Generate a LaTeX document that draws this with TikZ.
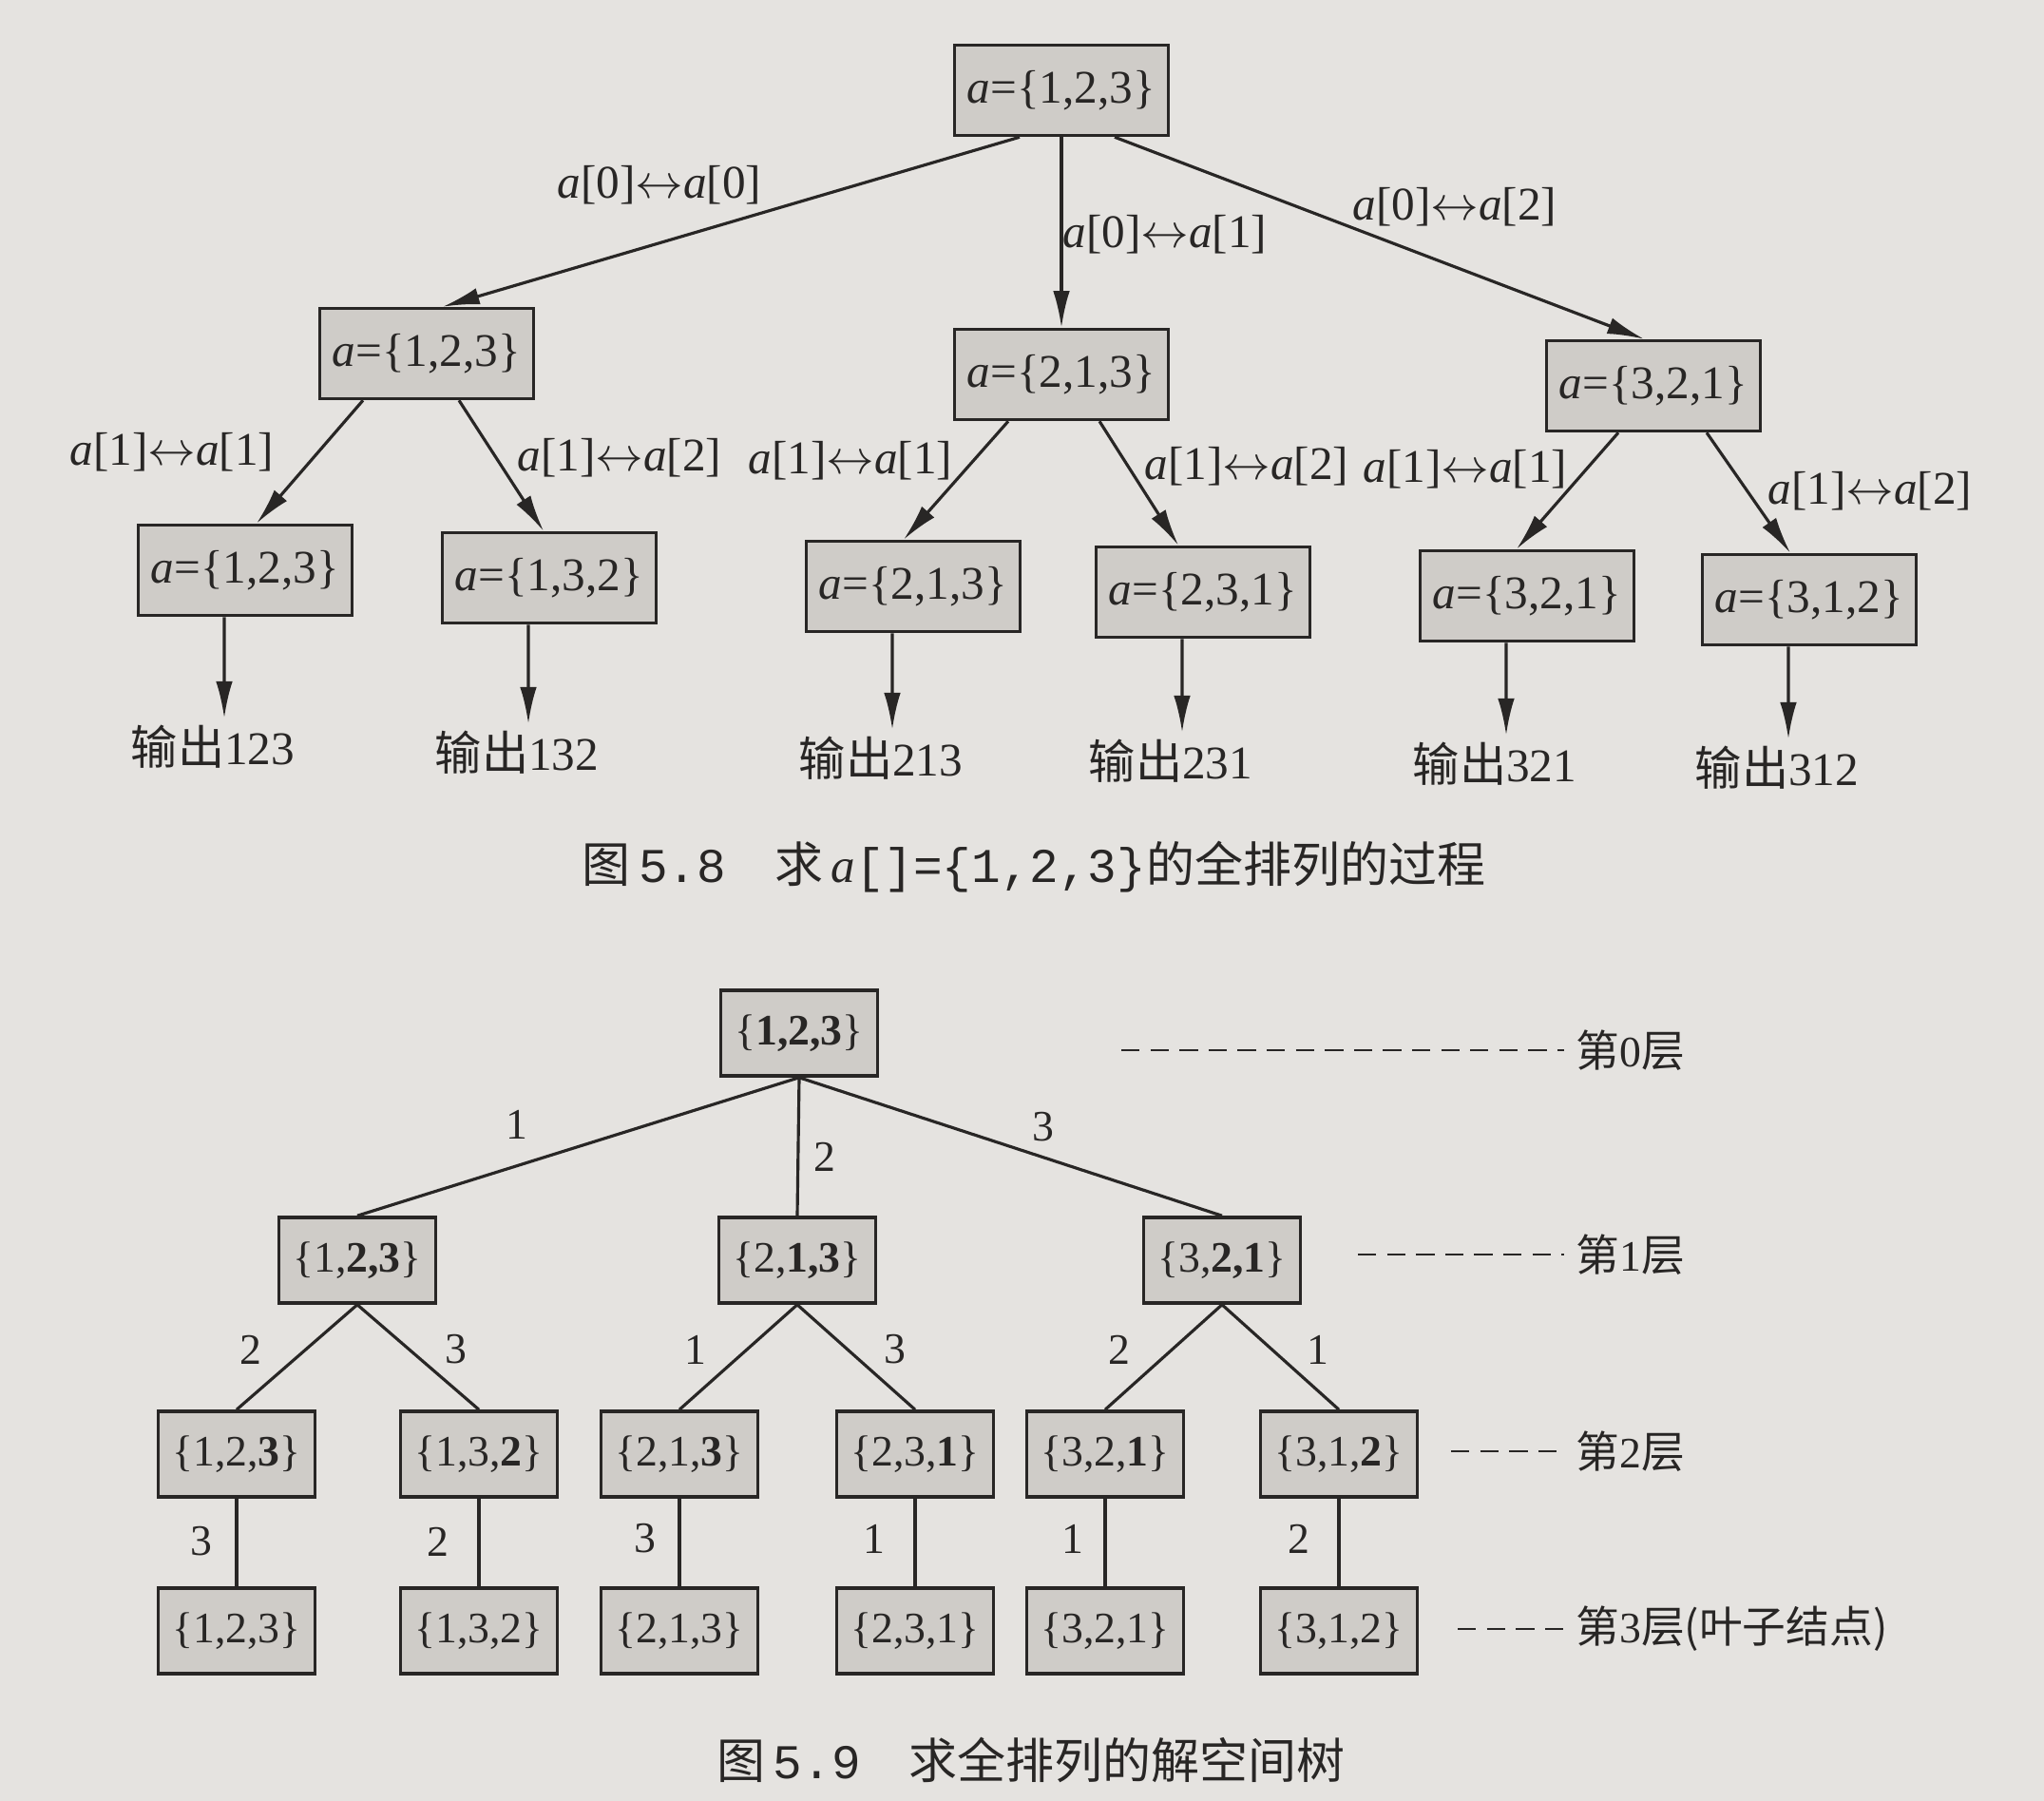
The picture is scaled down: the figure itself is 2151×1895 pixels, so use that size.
\documentclass[tikz,border=0pt]{standalone}
\usepackage{fontspec}
\setmainfont{Liberation Serif}
\newfontfamily\cjk{Noto Sans CJK SC}
\newfontfamily\capmono{Liberation Mono}
\usetikzlibrary{arrows.meta}
\definecolor{paper}{RGB}{229,227,224}
\definecolor{boxfill}{RGB}{207,204,200}
\definecolor{ink}{RGB}{40,38,37}
\newcommand\aset[1]{\textit{a}=\{#1\}}
\newcommand\swp[2]{\textit{a}[#1]$\leftrightarrow$\textit{a}[#2]}
\newcommand\outp[1]{{\cjk 输出}#1}

\begin{document}
\begin{tikzpicture}[x=0.01cm, y=-0.01cm,
	topbox/.style={draw=ink, line width=1pt, fill=boxfill, minimum width=2.25cm, minimum height=0.95cm, text=ink, font=\fontsize{14}{16}\selectfont},
	subbox/.style={draw=ink, line width=1pt, fill=boxfill, minimum width=1.65cm, minimum height=0.9cm, text=ink, font=\fontsize{13}{15}\selectfont},
	swaplbl/.style={text=ink, font=\fontsize{14}{16}\selectfont},
	outlbl/.style={text=ink, inner sep=2pt, font=\fontsize{14}{16}\selectfont},
	numlbl/.style={text=ink, font=\fontsize{13}{15}\selectfont},
	lvllbl/.style={text=ink, anchor=west, font=\fontsize{13}{15}\selectfont},
	caplbl/.style={text=ink, font=\fontsize{14.5}{17}\selectfont},
	arr/.style={draw=ink, line width=0.9pt, -{Latex[length=11pt,width=5pt]}},
	ln/.style={draw=ink, line width=0.9pt},
	lvline/.style={draw=ink, line width=0.8pt, dash pattern=on 5.5pt off 3.2pt}]

	\fill[paper] (0,0) rectangle (2151,1895);
	\useasboundingbox (0,0) rectangle (2151,1895);

	\node[topbox] (r) at (1117,95) {\aset{1,2,3}};
	\node[topbox] (a) at (449,372) {\aset{1,2,3}};
	\node[topbox] (b) at (1117,394) {\aset{2,1,3}};
	\node[topbox] (c) at (1740,406) {\aset{3,2,1}};
	\node[topbox] (a1) at (258,600) {\aset{1,2,3}};
	\node[topbox] (a2) at (578,608) {\aset{1,3,2}};
	\node[topbox] (b1) at (961,617) {\aset{2,1,3}};
	\node[topbox] (b2) at (1266,623) {\aset{2,3,1}};
	\node[topbox] (c1) at (1607,627) {\aset{3,2,1}};
	\node[topbox] (c2) at (1904,631) {\aset{3,1,2}};

	\node[outlbl] (oa1) at (224,786) {\outp{123}};
	\node[outlbl] (oa2) at (544,792) {\outp{132}};
	\node[outlbl] (ob1) at (927,798) {\outp{213}};
	\node[outlbl] (ob2) at (1232,801) {\outp{231}};
	\node[outlbl] (oc1) at (1573,804) {\outp{321}};
	\node[outlbl] (oc2) at (1870,808) {\outp{312}};

	\draw[arr] ([xshift=-4.4mm]r.south) -- ([xshift=1.7mm]a.north);
	\draw[arr] (r.south) -- (b.north);
	\draw[arr] ([xshift=5.6mm]r.south) -- ([xshift=-1mm]c.north);
	\draw[arr] ([xshift=-6.7mm]a.south) -- ([xshift=1.2mm]a1.north);
	\draw[arr] ([xshift=3.4mm]a.south) -- ([xshift=-0.6mm]a2.north);
	\draw[arr] ([xshift=-5.6mm]b.south) -- ([xshift=-1mm]b1.north);
	\draw[arr] ([xshift=4mm]b.south) -- ([xshift=-2.6mm]b2.north);
	\draw[arr] ([xshift=-3.7mm]c.south) -- ([xshift=-1.1mm]c1.north);
	\draw[arr] ([xshift=5.6mm]c.south) -- ([xshift=-2mm]c2.north);

	\draw[arr] ([xshift=-2.2mm]a1.south) -- ([xshift=1.2mm]oa1.north);
	\draw[arr] ([xshift=-2.2mm]a2.south) -- ([xshift=1.2mm]oa2.north);
	\draw[arr] ([xshift=-2.2mm]b1.south) -- ([xshift=1.2mm]ob1.north);
	\draw[arr] ([xshift=-2.2mm]b2.south) -- ([xshift=1.2mm]ob2.north);
	\draw[arr] ([xshift=-2.2mm]c1.south) -- ([xshift=1.2mm]oc1.north);
	\draw[arr] ([xshift=-2.2mm]c2.south) -- ([xshift=1.2mm]oc2.north);

	\node[swaplbl] (w00) at (694,195) {\swp{0}{0}};
	\node[swaplbl] (w01) at (1226,247) {\swp{0}{1}};
	\node[swaplbl] (w02) at (1531,218) {\swp{0}{2}};
	\node[swaplbl] (wa1) at (181,476) {\swp{1}{1}};
	\node[swaplbl] (wa2) at (652,482) {\swp{1}{2}};
	\node[swaplbl] (wb1) at (895,485) {\swp{1}{1}};
	\node[swaplbl] (wb2) at (1312,491) {\swp{1}{2}};
	\node[swaplbl] (wc1) at (1542,494) {\swp{1}{1}};
	\node[swaplbl] (wc2) at (1968,517) {\swp{1}{2}};

	\node[caplbl] (cap1) at (1088,912) {{\cjk 图}\,{\capmono 5.8}\quad{\cjk 求}\,\textit{a}{\capmono[]=\{1,2,3\}}{\cjk 的全排列的过程}};

	\node[subbox] (p) at (841,1087) {\{\textbf{1,2,3}\}};
	\node[subbox] (p1) at (376,1326) {\{1,\textbf{2,3}\}};
	\node[subbox] (p2) at (839,1326) {\{2,\textbf{1,3}\}};
	\node[subbox] (p3) at (1286,1326) {\{3,\textbf{2,1}\}};
	\node[subbox] (q1) at (249,1530) {\{1,2,\textbf{3}\}};
	\node[subbox] (q2) at (504,1530) {\{1,3,\textbf{2}\}};
	\node[subbox] (q3) at (715,1530) {\{2,1,\textbf{3}\}};
	\node[subbox] (q4) at (963,1530) {\{2,3,\textbf{1}\}};
	\node[subbox] (q5) at (1163,1530) {\{3,2,\textbf{1}\}};
	\node[subbox] (q6) at (1409,1530) {\{3,1,\textbf{2}\}};
	\node[subbox] (v1) at (249,1716) {\{1,2,3\}};
	\node[subbox] (v2) at (504,1716) {\{1,3,2\}};
	\node[subbox] (v3) at (715,1716) {\{2,1,3\}};
	\node[subbox] (v4) at (963,1716) {\{2,3,1\}};
	\node[subbox] (v5) at (1163,1716) {\{3,2,1\}};
	\node[subbox] (v6) at (1409,1716) {\{3,1,2\}};

	\draw[ln] (p.south) -- (p1.north);
	\draw[ln] (p.south) -- (p2.north);
	\draw[ln] (p.south) -- (p3.north);
	\draw[ln] (p1.south) -- (q1.north);
	\draw[ln] (p1.south) -- (q2.north);
	\draw[ln] (p2.south) -- (q3.north);
	\draw[ln] (p2.south) -- (q4.north);
	\draw[ln] (p3.south) -- (q5.north);
	\draw[ln] (p3.south) -- (q6.north);
	\draw[ln] (q1) -- (v1);
	\draw[ln] (q2) -- (v2);
	\draw[ln] (q3) -- (v3);
	\draw[ln] (q4) -- (v4);
	\draw[ln] (q5) -- (v5);
	\draw[ln] (q6) -- (v6);

	\node[numlbl] (k1) at (544,1183) {1};
	\node[numlbl] (k2) at (868,1217) {2};
	\node[numlbl] (k3) at (1098,1186) {3};
	\node[numlbl] (k12) at (264,1420) {2};
	\node[numlbl] (k13) at (480,1420) {3};
	\node[numlbl] (k21) at (732,1420) {1};
	\node[numlbl] (k23) at (942,1420) {3};
	\node[numlbl] (k32) at (1178,1420) {2};
	\node[numlbl] (k31) at (1387,1420) {1};
	\node[numlbl] (m1) at (212,1622) {3};
	\node[numlbl] (m2) at (461,1622) {2};
	\node[numlbl] (m3) at (679,1619) {3};
	\node[numlbl] (m4) at (920,1619) {1};
	\node[numlbl] (m5) at (1129,1619) {1};
	\node[numlbl] (m6) at (1367,1619) {2};

	\node[lvllbl] (lv0) at (1646,1105) {{\cjk 第}0{\cjk 层}};
	\node[lvllbl] (lv1) at (1646,1320) {{\cjk 第}1{\cjk 层}};
	\node[lvllbl] (lv2) at (1646,1527) {{\cjk 第}2{\cjk 层}};
	\node[lvllbl] (lv3) at (1646,1714) {{\cjk 第}3{\cjk 层(叶子结点)}};
	\coordinate (d0) at (1180,1105);
	\coordinate (d1) at (1429,1320);
	\coordinate (d2) at (1527,1527);
	\coordinate (d3) at (1534,1714);
	\draw[lvline] (d0) -- (lv0);
	\draw[lvline] (d1) -- (lv1);
	\draw[lvline] (d2) -- (lv2);
	\draw[lvline] (d3) -- (lv3);

	\node[caplbl] (cap2) at (1085,1852) {{\cjk 图}\,{\capmono 5.9}\quad{\cjk 求全排列的解空间树}};
\end{tikzpicture}
\end{document}
